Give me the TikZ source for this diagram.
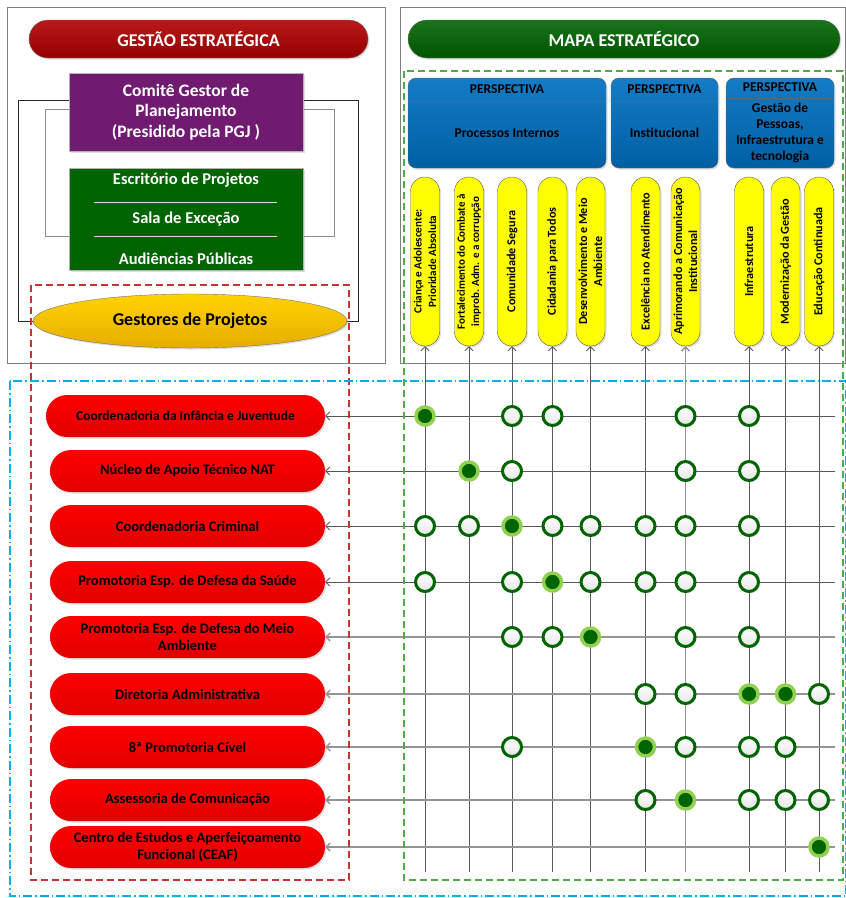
\documentclass[tikz,border=0pt]{standalone}
\usepackage{fontspec}
\setmainfont{Carlito}
\usepackage{tikz}
\usetikzlibrary{shapes.misc,shapes.geometric,arrows.meta,positioning,shadows,calc}

\definecolor{hdred}{RGB}{176,0,0}
\definecolor{purp}{RGB}{112,26,112}
\definecolor{dgreen}{RGB}{0,100,0}
\definecolor{lgreen}{RGB}{146,208,80}
\definecolor{gold}{RGB}{255,192,0}
\definecolor{pblue}{RGB}{0,112,192}
\definecolor{yel}{RGB}{255,255,0}
\definecolor{dashgreen}{RGB}{80,170,70}
\definecolor{dashred}{RGB}{200,50,50}
\definecolor{dashblue}{RGB}{0,176,240}

\begin{document}
\begin{tikzpicture}[
    x=1pt, y=-1pt,
    >={Straight Barb[length=4pt,width=8pt]},
    shd/.style={drop shadow={opacity=.25,shadow xshift=1.5pt,shadow yshift=-1.5pt}},
    header/.style={rounded rectangle, draw=black!55, text=white, shd, minimum height=38, inner sep=0pt,
                   font=\bfseries\fontsize{18}{21}\selectfont},
    box/.style={rectangle, draw=black!30, text=white, shd, inner sep=0pt, align=center},
    boxtext/.style={text=white, inner sep=0pt, font=\bfseries\fontsize{16.5}{19}\selectfont},
    unit/.style={rounded rectangle, top color=red, bottom color=red!88!black, shd, minimum width=275,
                 minimum height=42, inner sep=0pt, align=center, font=\bfseries\fontsize{14.5}{17}\selectfont},
    goal/.style={rounded rectangle, rotate=90, draw=black!65, fill=yel, shd, minimum width=169,
                 minimum height=29, inner sep=0pt, align=center, font=\bfseries\fontsize{12.2}{15}\selectfont},
    persp/.style={rectangle, rounded corners=8pt, draw=black!60, top color=pblue!92!white,
                  bottom color=pblue!85!black, shd, minimum height=90, inner sep=0pt},
    ptext/.style={inner sep=0pt, align=center, font=\bfseries\fontsize{13.5}{16}\selectfont},
    hit/.style={circle, draw=dgreen, line width=3pt, top color=white, bottom color=black!10,
                minimum size=19, inner sep=0pt, shd},
    main/.style={circle, draw=lgreen, line width=3.5pt, fill=dgreen, minimum size=18, inner sep=0pt, shd},
    link/.style={draw=black!65, line width=0.8pt},
    light/.style={draw=black!42, line width=1.4pt}
]
  \useasboundingbox (0,0) rectangle (846,898);

  % frames
  \draw[black!50] (7,7) rectangle (385,363);
  \draw[black!50] (400,7) rectangle (845,363);
  \draw[black!85] (18,100) rectangle (358,321);
  \draw[black!45] (45,109) rectangle (334,236);

  % gestao estrategica
  \node[header, top color=hdred!90!white, bottom color=hdred!85!black, minimum width=339] (gest) at (198.5,39) {GESTÃO ESTRATÉGICA};
  \node[box, fill=purp, minimum width=234, minimum height=78, font=\bfseries\fontsize{17.5}{20.5}\selectfont] (comite) at (186,112)
       {Comitê Gestor de\\Planejamento\\(Presidido pela PGJ )};
  \node[box, fill=dgreen, minimum width=234, minimum height=102] (nucleo) at (186,219) {};
  \node[boxtext] (proj) at (186,180) {Escritório de Projetos};
  \node[boxtext] (sala) at (186,219) {Sala de Exceção};
  \node[boxtext] (aud) at (186,259) {Audiências Públicas};
  \draw[white!85!black] (94,202) -- (277,202);
  \draw[white!85!black] (94,236) -- (277,236);
  \node[ellipse, draw=black!55, top color=gold!70!yellow, bottom color=gold!90!black, shd, minimum width=314,
        minimum height=54, inner sep=0pt, font=\bfseries\fontsize{18}{21}\selectfont] (gestores) at (190,321) {Gestores de Projetos};

  % mapa estrategico
  \node[header, top color=dgreen!90!white, bottom color=dgreen!85!black, minimum width=432] (mapa) at (624,39) {MAPA ESTRATÉGICO};
  \node[persp, minimum width=198] (P1) at (507,123) {};
  \node[persp, minimum width=107] (P2) at (664.5,123) {};
  \node[persp, minimum width=108] (P3) at (780,123) {};
  \draw[black!60] (P1.west |- 0,101) -- (P1.east |- 0,101);
  \draw[black!60] (P2.west |- 0,101) -- (P2.east |- 0,101);
  \draw[black!60] (P3.west |- 0,98) -- (P3.east |- 0,98);
  \node[ptext] (h1) at (507,89) {PERSPECTIVA};
  \node[ptext] (h2) at (664.5,89) {PERSPECTIVA};
  \node[ptext] (h3) at (780,87.5) {PERSPECTIVA};
  \node[ptext] (t1) at (507,133) {Processos Internos};
  \node[ptext] (t2) at (664.5,133) {Institucional};
  \node[ptext] (t3) at (780,133) {Gestão de\\Pessoas,\\Infraestrutura e\\tecnologia};

  % objetivos
  \node[goal, font=\bfseries\fontsize{11.1}{14.3}\selectfont] (V1) at (425,261.5) {Criança e Adolescente:\\Prioridade Absoluta};
  \node[goal, font=\bfseries\fontsize{11}{14.3}\selectfont] (V2) at (469,261.5) {Fortalecimento do Combate à\\improb. Adm. e a corrupção};
  \node[goal] (V3) at (512,261.5) {Comunidade Segura};
  \node[goal] (V4) at (552.5,261.5) {Cidadania para Todos};
  \node[goal] (V5) at (590.5,261.5) {Desenvolvimento e Meio\\Ambiente};
  \node[goal] (V6) at (645.5,261.5) {Excelência no Atendimento};
  \node[goal] (V7) at (685.5,261.5) {Aprimorando a Comunicação\\Institucional};
  \node[goal] (V8) at (749,261.5) {Infraestrutura};
  \node[goal] (V9) at (785.5,261.5) {Modernização da Gestão};
  \node[goal] (V10) at (819,261.5) {Educação Continuada};

  % unidades
  \node[unit, font=\bfseries\fontsize{13.5}{16}\selectfont, minimum width=279] (R1) at (185.5,416) {Coordenadoria da Infância e Juventude};
  \node[unit] (R2) at (187.5,471) {Núcleo de Apoio Técnico NAT};
  \node[unit] (R3) at (187.5,526) {Coordenadoria Criminal};
  \node[unit] (R4) at (187.5,582) {Promotoria Esp. de Defesa da Saúde};
  \node[unit] (R5) at (187.5,637) {Promotoria Esp. de Defesa do Meio\\Ambiente};
  \node[unit] (R6) at (187.5,694) {Diretoria Administrativa};
  \node[unit] (R7) at (187.5,747) {8ª Promotoria Cível};
  \node[unit] (R8) at (187.5,800) {Assessoria de Comunicação};
  \node[unit] (R9) at (187.5,847) {Centro de Estudos e Aperfeiçoamento\\Funcional (CEAF)};

  % grid
  \coordinate (foot) at (0,872);
  \coordinate (rim) at (835,0);
  \foreach \c in {1,...,6,8,9,10}
    \draw[link,->] (V\c.west |- foot) -- (V\c.west);
  \draw[light,->] (V7.west |- foot) -- (V7.west);
  \foreach \r in {1,...,4}
    \draw[link,->] (rim |- R\r) -- (R\r.east);
  \foreach \r in {5,...,9}
    \draw[light,->] (rim |- R\r) -- (R\r.east);

  % groups
  \draw[dashred, line width=1.2pt, dash pattern=on 7pt off 4pt] (31,285) rectangle (349,880);
  \draw[dashgreen, line width=1.2pt, dash pattern=on 7pt off 4pt] (404,71) rectangle (843,880);
  \draw[dashblue, line width=1.2pt, dash pattern=on 9pt off 3pt on 1.5pt off 3pt] (10,381) rectangle (846,896);

  % marks
  \foreach \r/\c in {1/3,1/4,1/7,1/8,2/3,2/7,2/8,3/1,3/2,3/4,3/5,3/6,3/7,3/8,
                     4/1,4/3,4/5,4/6,4/7,4/8,5/3,5/4,5/7,5/8,6/6,6/7,6/10,
                     7/3,7/7,7/8,7/9,8/6,8/8,8/9,8/10}
    \node[hit] (c\r-\c) at (V\c |- R\r) {};
  \foreach \r/\c in {1/1,2/2,3/3,4/4,5/5,6/8,6/9,7/6,8/7,9/10}
    \node[main] (m\r-\c) at (V\c |- R\r) {};
\end{tikzpicture}
\end{document}
